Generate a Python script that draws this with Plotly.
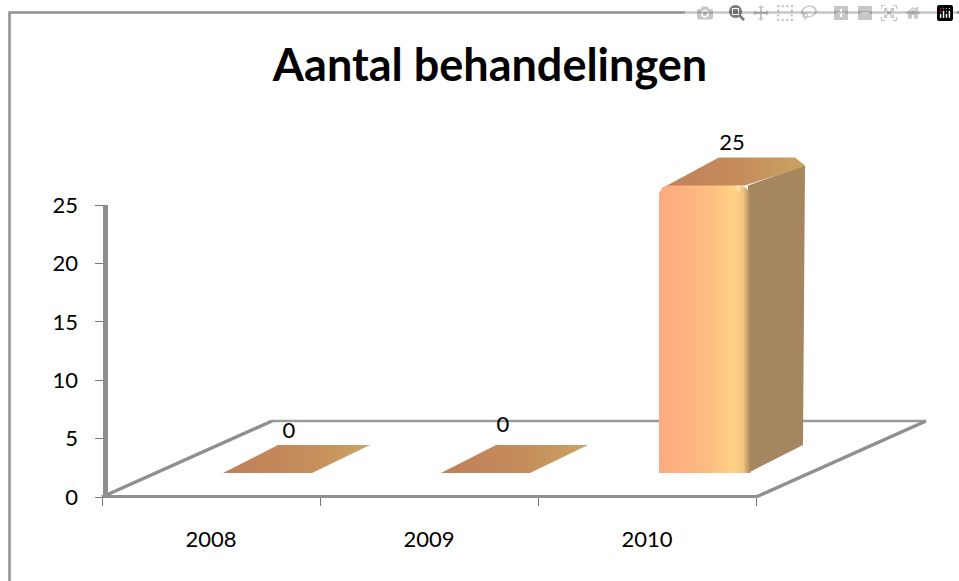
import plotly.graph_objects as go

# ---- data ----
years = ["2008", "2009", "2010"]
treatments = [0, 0, 25]
y_ticks = [0, 5, 10, 15, 20, 25]
title_text = "Aantal behandelingen"

# ---- page geometry ----
W, H = 959, 581
X0, X1, Y0, Y25 = 102.0, 756.0, 497.0, 205.0
ux = (X1 - X0) / 3
uy = (Y0 - Y25) / 25

# ---- projection of the pseudo-3D look, in axis units ----
floor_dx, floor_dy = 170 / ux, 76 / uy
bar_left, bar_w = 121 / ux, 89 / ux
bar_base = 24 / uy
bar_dx, bar_dy = 55 / ux, 28 / uy
bar_scale = 0.985
lab_dx = [187 / ux, 183 / ux, 194 / ux]
lab_dy = [65 / uy, 71 / uy, 65 / uy]
GREY = "#8f8f8f"

fig = go.Figure()


def poly(xs, ys, stops=None, color=None):
    kw = dict(x=xs, y=ys, mode="lines", fill="toself", line=dict(width=0),
              hoverinfo="skip", showlegend=False, xaxis="x2", yaxis="y2")
    if stops:
        kw["fillgradient"] = dict(type="horizontal", colorscale=stops)
    else:
        kw["fillcolor"] = color
    fig.add_trace(go.Scatter(**kw))


def line(xs, ys, width, color=GREY):
    fig.add_trace(go.Scatter(x=xs, y=ys, mode="lines", hoverinfo="skip",
                             line=dict(color=color, width=width),
                             showlegend=False, xaxis="x2", yaxis="y2"))


# chart frame (only the left and top edges fall inside the picture)
fx0 = (9.5 - X0) / ux
fy1 = (Y0 - 12.5) / uy
line([fx0, fx0, 10], [-60, fy1, fy1], 2.5)

# floor outline
n = len(years)
line([floor_dx, n + floor_dx], [floor_dy, floor_dy], 2.5, "#9a9a9a")
line([0, floor_dx], [0, floor_dy], 3.5)
line([n + floor_dx, n], [floor_dy, 0], 3.5)

top_stops = [[0, "#c08058"], [0.55, "#c58c5c"], [1, "#c9a362"]]
front_stops = [[0, "#ffa97f"], [0.55, "#fdbd80"], [0.82, "#ffd184"],
               [0.92, "#f0c57e"], [1, "#a8875f"]]
side_color = "#a5865f"

rx, ry = 8 / ux, 8 / uy   # corner rounding

for i, v in enumerate(treatments):
    l = i + bar_left
    r = l + bar_w
    b = bar_base
    t = b + v * bar_scale
    if v > 0:
        poly([r, r + bar_dx, r + bar_dx + rx * .25, r],
             [b, b + bar_dy, t + bar_dy - ry, t], color=side_color)
        poly([l + rx * .3, l + rx, l + bar_dx + rx * .6, r + bar_dx - rx, r + bar_dx + rx * .25,
              r + bar_dx, r - rx * .4, l + rx * .3],
             [t - ry * .4, t, t + bar_dy, t + bar_dy, t + bar_dy - ry,
              t + bar_dy - ry * 1.2, t, t - ry * .4],
             stops=top_stops)
        poly([l, l, l + rx * .4, l + rx, r - rx, r - rx * .3, r + rx * .3, r + rx * .3],
             [b, t - ry, t - ry * .25, t, t, t - ry * .25, t - ry, b],
             stops=front_stops)
        # small specular highlight on the bevel
        fig.add_trace(go.Scatter(x=[r - 10 / ux], y=[t - 3 / uy], mode="markers",
                                 marker=dict(size=6, color="#ffe2a0", opacity=0.8, line=dict(width=0)),
                                 hoverinfo="skip", showlegend=False, xaxis="x2", yaxis="y2"))
    else:
        poly([l, l + bar_w, l + bar_w + bar_dx + 3 / ux, l + bar_dx],
             [b, b, b + bar_dy, b + bar_dy], stops=top_stops)

# data labels
fig.add_trace(go.Scatter(
    x=[i + d for i, d in enumerate(lab_dx)],
    y=[v * bar_scale + d for v, d in zip(treatments, lab_dy)],
    mode="text", text=[str(v) for v in treatments], textposition="middle center",
    textfont=dict(family="Lato", size=22, color="black"),
    hoverinfo="skip", showlegend=False, xaxis="x2", yaxis="y2"))

tick_font = dict(family="Lato", size=22, color="black")
# a dummy trace keeps the visible axis pair alive
fig.add_trace(go.Scatter(x=[0, n], y=[0, 25], mode="lines", line=dict(width=0),
                         hoverinfo="skip", showlegend=False))
fig.update_layout(
    template="none",
    width=W, height=H, autosize=False,
    margin=dict(l=0, r=0, t=0, b=0),
    paper_bgcolor="white", plot_bgcolor="rgba(0,0,0,0)",
    xaxis=dict(
        domain=[X0 / W, X1 / W], range=[0, n], showgrid=False, zeroline=False,
        automargin=False, anchor="free", position=(H - Y0 + 1.5) / H,
        showline=True, linecolor=GREY, linewidth=3,
        tickmode="array", tickvals=[i + 0.5 for i in range(n)], ticktext=years,
        ticks="", tickfont=tick_font, ticklabelstandoff=23,
        minor=dict(tickmode="array", tickvals=list(range(n + 1)), ticks="outside",
                   ticklen=8, tickwidth=1, tickcolor="#777777", showgrid=False),
    ),
    yaxis=dict(
        domain=[(H - Y0) / H, (H - Y25) / H], range=[0, 25], showgrid=False, zeroline=False,
        automargin=False, anchor="free", position=(X0 + 2.5) / W,
        showline=True, linecolor=GREY, linewidth=5,
        tickmode="array", tickvals=y_ticks, ticks="outside", ticklen=8, tickwidth=1,
        tickcolor="#777777", tickfont=tick_font, ticklabelstandoff=12,
    ),
    xaxis2=dict(domain=[0, 1], range=[-X0 / ux, (W - X0) / ux], visible=False,
                automargin=False, anchor="y2"),
    yaxis2=dict(domain=[0, 1], range=[-(H - Y0) / uy, Y0 / uy], visible=False,
                automargin=False, anchor="x2"),
    title=dict(text="<b>" + title_text + "</b>", x=490 / W, xanchor="center",
               y=1 - 65 / H, yanchor="middle",
               font=dict(family="Lato", size=45, color="black")),
)
fig.write_html(
    "out.html", default_width=f"{W}px", default_height=f"{H}px",
    post_script="document.body.style.margin='0';document.documentElement.style.overflow='hidden';",
)
